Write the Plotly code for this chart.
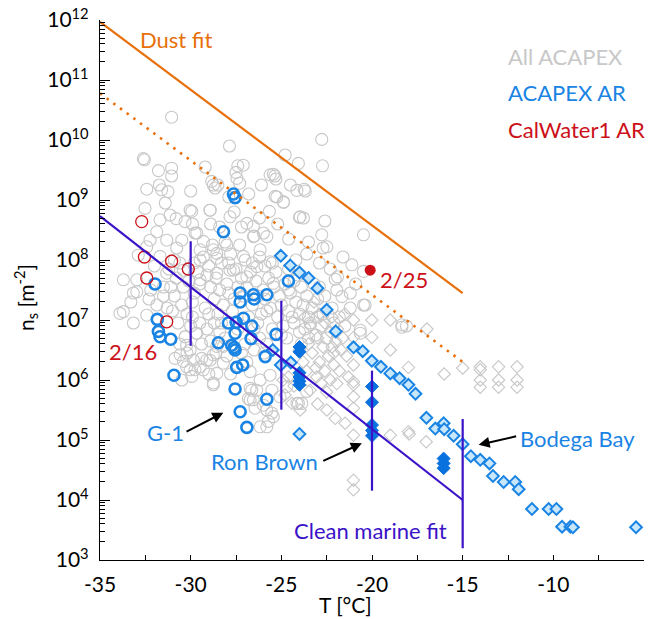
import plotly.graph_objects as go

# ---------------- data (T in degC, values as log10 of n_s in m^-2) ----------------
all_acapex_circles = [
    (-31.05,10.38),(-27.86,9.90),(-22.77,10.01),(-24.79,9.75),(-24.06,9.61),(-22.73,9.57),
    (-32.61,9.69),(-32.55,9.67),(-31.78,9.49),(-31.05,9.53),(-31.05,9.40),(-25.44,9.43),
    (-25.36,9.40),(-32.42,9.18),(-31.73,9.25),(-31.60,9.17),(-31.25,9.14),(-28.84,9.31),
    (-28.65,9.20),(-27.40,9.57),(-27.10,9.58),(-27.50,9.46),(-27.45,9.36),(-27.30,9.28),
    (-23.74,9.18),(-23.68,9.15),(-25.34,9.06),(-24.88,8.96),(-25.66,8.81),(-24.00,8.71),
    (-23.78,8.70),(-32.52,8.86),(-30.03,8.83),(-28.93,8.83),(-22.77,8.42),(-20.47,8.42),
    (-22.49,8.22),(-22.70,8.20),(-21.11,7.92),(-20.47,7.81),(-22.90,7.95),(-22.03,7.68),
    (-21.66,7.39),(-21.20,7.45),(-20.47,7.25),(-20.65,6.83),(-18.35,6.88),(-18.10,6.90),
    (-21.90,7.72),(-22.30,7.85),(-21.94,7.50),(-20.38,7.25),(-20.65,6.78),
    (-33.90,7.11),(-33.71,7.14),(-33.16,6.95),(-32.97,7.47),(-32.42,7.08),(-31.87,7.25),
    (-33.16,7.45),(-33.71,7.67),(-32.97,7.67),(-32.89,8.08),(-32.24,8.33),(-32.42,8.22),
    (-31.87,8.47),(-31.32,8.33),(-31.69,8.67),(-31.14,8.75),(-30.80,8.69),(-30.49,8.33),
    (-30.77,8.20),(-31.69,8.06),(-31.32,7.78),(-30.40,7.83),(-33.30,7.30),(-32.20,7.50),
    (-31.50,7.40),(-32.00,7.90),
    (-31.20,7.85),(-30.80,7.70),(-30.40,7.55),(-30.90,7.40),(-30.50,7.25),(-30.10,7.65),
    (-29.80,7.45),(-29.60,7.80),(-31.50,7.55),(-31.00,7.15),(-30.20,7.10),(-29.90,7.30),
    (-31.30,7.20),(-32.30,7.35),(-32.00,7.60),
    (-29.30,8.05),(-29.00,7.90),(-28.60,7.70),(-28.90,7.55),(-28.30,7.95),(-28.00,7.60),
    (-27.80,8.10),(-27.50,7.85),(-27.20,7.70),(-27.00,8.00),(-26.70,7.80),(-26.40,7.65),
    (-26.20,8.05),(-28.70,7.35),(-28.20,7.25),(-27.90,7.45),(-26.90,7.55),(-26.00,7.50),
    (-29.20,7.20),(-28.50,7.10),(-27.70,7.15),(-26.60,7.25),(-26.10,7.10),(-29.50,7.60),
    (-28.10,8.30),(-27.30,8.25),(-26.50,8.40),(-25.90,7.90),(-27.60,7.35),(-26.80,7.05),
    (-25.70,7.70),(-25.40,7.55),(-25.10,7.40),(-24.80,7.60),(-24.50,7.45),(-24.20,7.30),
    (-23.90,7.55),(-23.60,7.40),(-23.30,7.20),(-23.00,7.35),(-22.70,7.10),(-25.60,7.20),
    (-25.20,7.05),(-24.90,6.90),(-24.60,7.15),(-24.30,6.95),(-24.00,7.10),(-23.70,6.85),
    (-23.40,6.95),(-23.10,6.75),(-22.80,6.90),(-22.50,6.70),(-25.50,6.85),(-24.70,6.70),
    (-23.90,6.60),(-25.90,7.35),(-25.30,7.80),(-24.60,7.85),(-23.20,7.60),(-22.60,7.40),
    (-22.20,7.20),(-24.10,7.75),(-26.30,6.95),(-25.80,6.60),(-22.10,6.95),(-21.80,7.05),
    (-30.00,6.90),(-29.50,6.95),(-29.10,6.85),(-28.70,6.95),(-28.40,6.80),(-28.90,6.65),
    (-29.40,6.60),(-30.30,6.72),(-30.60,6.60),(-29.70,6.78),(-28.10,6.70),(-27.00,6.60),
    (-26.50,6.50),(-26.20,6.70),(-25.95,6.45),(-30.20,6.45),(-28.60,6.45),
    (-30.58,6.42),(-30.40,6.31),(-30.86,6.36),(-29.85,6.33),(-29.48,6.22),(-29.11,6.33),
    (-28.75,6.42),(-28.56,6.56),(-28.20,6.56),(-29.30,6.17),(-28.75,5.92),(-30.03,6.17),
    (-29.66,6.78),(-30.31,6.72),(-30.22,6.58),(-26.72,5.86),(-26.82,5.69),(-26.17,6.00),
    (-25.80,5.50),(-25.80,5.22),(-26.17,5.22),(-30.03,6.50),(-29.39,6.36),(-28.93,6.33),
    (-28.56,6.11),(-28.20,6.28),(-29.76,6.17),(-30.22,6.22),(-26.72,6.14),(-26.63,5.83),
    (-26.72,5.67),(-25.99,5.58),(-26.45,5.53),(-25.07,5.72),(-25.52,5.83),(-24.70,5.89),
    (-24.06,5.61),(-23.60,5.81),(-25.62,6.08),(-30.49,6.00),(-29.94,6.06),(-28.75,5.95),
    (-26.36,5.83),(-26.54,5.67),(-25.53,5.45),(-23.87,5.61),(-25.71,5.31),(-25.44,5.39),
    (-24.14,5.61),
    (-25.62,9.42),(-25.30,9.35),(-24.14,9.16),(-25.25,9.05),(-24.88,8.97),(-23.96,8.72),
    (-28.75,9.25),(-28.50,9.25),(-29.94,8.81),(-28.93,8.83),(-30.31,8.64),(-29.76,8.45),
    (-27.83,8.72),(-27.60,8.80),(-26.90,8.61),(-26.54,8.39),(-25.80,8.39),(-26.17,8.17),
    (-25.62,7.97),(-28.75,8.17),(-28.56,8.03),(-29.48,8.17),(-29.48,7.67),(-27.83,7.83),
    (-26.90,7.72),(-25.44,7.61),(-29.66,8.45),(-29.30,8.31),(-28.56,8.11),(-28.01,8.25),
    (-26.54,8.56),(-25.99,8.45),(-27.09,8.06),(-26.35,7.89),(-29.48,8.00),(-28.56,7.78),
    (-27.64,7.83),(-18.35,6.92),
    (-29.80,7.95),(-29.10,7.75),(-28.80,8.25),(-28.40,7.50),(-27.90,7.95),(-27.40,7.55),
    (-27.10,7.40),(-26.60,7.95),(-26.30,7.40),(-25.80,7.15),(-25.50,7.95),(-25.00,7.25),
    (-24.60,7.50),(-24.30,7.65),(-23.80,7.25),(-23.50,7.05),(-23.00,7.05),(-22.90,7.55),
    (-24.40,7.05),(-25.00,6.75),(-24.00,6.80),(-23.50,6.70),(-29.90,7.05),(-30.70,6.95),
    (-31.10,7.55),(-30.60,7.95),(-29.00,7.10),(-28.30,6.95),(-27.40,6.85),(-26.50,6.85),
    (-27.20,6.45),(-28.00,6.40),(-29.00,6.10),(-27.80,6.10),(-26.90,6.30),(-28.40,8.55),
    (-27.20,8.55),(-26.20,8.70),(-27.90,9.05),(-26.80,9.10),(-28.90,8.60),(-25.20,8.60),
    (-24.60,8.35),(-23.50,8.30),(-24.20,8.00),(-23.60,8.10),(-22.60,8.65),(-21.60,8.05),
    (-21.20,7.20),(-21.50,6.90),(-20.90,7.60),(-30.90,8.00),(-29.90,8.60),(-31.40,8.95),
    (-30.00,9.15),(-29.20,9.55),(-26.10,9.25),(-24.50,9.25),
]

all_acapex_diamonds = [
    (-16.02,6.10),(-15.00,6.20),(-14.03,6.22),(-14.03,6.17),(-14.03,6.00),(-14.03,5.88),
    (-13.02,6.22),(-13.02,6.00),(-13.02,5.88),(-12.00,6.22),(-12.00,6.00),(-12.00,5.88),
    (-21.02,7.00),(-20.01,7.00),(-18.99,7.00),(-21.02,6.71),(-20.01,6.71),(-18.99,6.50),
    (-17.99,6.21),(-16.97,6.85),(-21.02,6.25),(-21.02,5.97),(-21.02,5.92),(-21.02,5.72),
    (-21.02,5.53),(-22.03,5.36),(-22.49,5.50),(-21.02,5.08),(-18.99,5.08),(-17.99,5.14),
    (-17.95,5.10),(-17.01,4.97),(-21.02,4.33),(-21.02,4.17),(-21.94,5.94),(-23.05,6.05),
    (-23.41,5.83),(-24.42,5.61),(-23.96,5.50),(-21.48,5.28),
    (-23.20,7.30),(-22.90,7.10),(-22.60,6.95),(-22.30,6.80),(-22.00,6.65),(-21.70,6.50),
    (-23.00,6.70),(-22.70,6.55),(-22.40,6.40),(-22.10,6.25),(-21.80,6.15),(-23.30,6.45),
    (-22.90,6.30),(-22.60,6.15),(-22.30,6.00),(-23.40,6.90),(-21.90,6.85),(-22.20,7.05),
    (-23.10,6.20),(-21.60,6.70),(-24.60,6.05),(-24.30,5.90),(-22.50,5.80),
    (-23.70,7.05),(-23.50,6.60),(-23.80,6.30),(-24.00,6.50),(-23.60,6.15),(-22.80,5.95),
    (-21.40,6.40),(-21.30,6.05),(-22.20,6.55),(-21.50,7.10),(-24.90,6.00),(-24.80,5.75),
    (-23.00,5.60),(-22.10,6.45),
]

acapex_ar_circles = [
    (-27.64,9.10),(-27.55,9.04),(-28.19,8.47),(-31.96,7.60),(-24.61,7.65),(-27.27,7.45),
    (-26.54,7.42),(-25.80,7.42),(-27.27,7.30),(-26.50,7.35),(-31.84,7.01),(-31.78,6.81),
    (-31.69,6.72),(-31.10,6.68),(-27.92,6.95),(-27.49,6.96),(-27.09,7.03),(-26.63,6.90),
    (-27.55,6.78),(-28.47,6.62),(-27.74,6.58),(-27.55,6.50),(-27.60,6.54),(-26.67,6.69),
    (-25.89,6.39),(-27.13,6.25),(-27.46,6.21),(-30.92,6.08),(-27.55,5.85),(-25.80,5.68),
    (-27.27,5.47),(-26.90,5.21),(-25.29,6.76),
]

acapex_ar_diamonds = [
    (-25.03,8.07),(-24.51,7.91),(-24.00,7.79),(-23.50,7.70),(-23.01,7.53),(-22.50,7.17),
    (-22.00,6.81),(-21.02,6.545),(-20.51,6.48),(-20.01,6.32),(-19.51,6.22),(-18.99,6.11),
    (-18.48,6.03),(-17.99,5.92),(-17.60,5.77),(-17.00,5.37),(-16.51,5.19),(-16.05,5.28),
    (-16.02,5.18),(-15.50,5.07),(-15.00,4.93),(-14.55,4.73),(-14.03,4.67),(-13.52,4.61),
    (-13.33,4.40),(-12.74,4.30),(-12.10,4.30),(-11.91,4.18),(-11.18,3.85),(-10.26,3.85),
    (-9.83,3.85),(-9.52,3.555),(-9.06,3.555),(-8.92,3.545),(-5.44,3.545),(-25.47,6.50),
    (-25.03,6.25),(-24.48,6.29),(-24.00,5.10),
]

ground_site_diamonds = [
    (-24.0,6.55),(-24.0,6.47),(-24.0,6.12),(-24.0,6.05),(-24.0,5.98),(-24.0,5.92),
    (-20.0,5.89),(-20.0,5.63),(-20.0,5.25),(-20.0,5.16),(-20.0,5.07),
    (-16.05,4.69),(-16.05,4.61),(-16.05,4.53),
]

calwater_circles = [(-32.70,8.64),(-32.55,8.05),(-31.05,7.98),(-30.13,7.85),(-32.42,7.70),(-31.32,6.97)]
calwater_0225 = [(-20.10,7.83)]

dust_fit_T = [-35, -15]
dust_fit_ns = [9.3e11, 2.8e7]
dust_fit_low_ns = [6.0e10, 2.0e6]
clean_fit_T = [-35, -15]
clean_fit_ns = [5.4e8, 1.0e4]
clean_bar_T = [-30, -25, -20, -15]
clean_bar_low = [3.7e6, 3.2e5, 1.43e4, 1.57e3]
clean_bar_high = [2.05e8, 2.1e7, 1.43e6, 2.24e5]

x_ticks = [-35, -30, -25, -20, -15, -10, -5]
x_tick_labels = ["-35", "-30", "-25", "-20", "-15", "-10", "-5"]
y_exponents = list(range(3, 13))

# ---------------- styling ----------------
FONT = "Lato"
GRAY = "#C8C8C8"
BLUE = "#1A84E4"
LIGHTBLUE = "#C9E7FA"
DARKBLUE = "#0A72DF"
RED = "#CC1018"
ORANGE = "#E8700A"
PURPLE = "#3A12C8"


def split(pairs):
    return [p[0] for p in pairs], [10 ** p[1] for p in pairs]


fig = go.Figure()

x, y = split(all_acapex_circles)
fig.add_trace(go.Scatter(x=x, y=y, mode="markers",
                         marker=dict(symbol="circle-open", size=12, color=GRAY, line=dict(width=1.1))))
x, y = split(all_acapex_diamonds)
fig.add_trace(go.Scatter(x=x, y=y, mode="markers",
                         marker=dict(symbol="diamond-open", size=9.5, color=GRAY, line=dict(width=1.1))))
x, y = split(acapex_ar_diamonds)
fig.add_trace(go.Scatter(x=x, y=y, mode="markers",
                         marker=dict(symbol="diamond", size=9, color=LIGHTBLUE, line=dict(width=2, color=BLUE))))
x, y = split(ground_site_diamonds)
fig.add_trace(go.Scatter(x=x, y=y, mode="markers",
                         marker=dict(symbol="diamond", size=10, color=DARKBLUE, line=dict(width=1, color=DARKBLUE))))
x, y = split(acapex_ar_circles)
fig.add_trace(go.Scatter(x=x, y=y, mode="markers",
                         marker=dict(symbol="circle-open", size=11, color=BLUE, line=dict(width=2.6))))
x, y = split(calwater_circles)
fig.add_trace(go.Scatter(x=x, y=y, mode="markers",
                         marker=dict(symbol="circle-open", size=12, color=RED, line=dict(width=1.3))))
x, y = split(calwater_0225)
fig.add_trace(go.Scatter(x=x, y=y, mode="markers",
                         marker=dict(symbol="circle", size=11, color=RED)))

# fits
fig.add_trace(go.Scatter(x=dust_fit_T, y=dust_fit_ns, mode="lines",
                         line=dict(color=ORANGE, width=2.2)))
fig.add_trace(go.Scatter(x=dust_fit_T, y=dust_fit_low_ns, mode="lines",
                         line=dict(color=ORANGE, width=2.6, dash="2.5px,5.8px")))
fig.add_trace(go.Scatter(x=clean_fit_T, y=clean_fit_ns, mode="lines",
                         line=dict(color=PURPLE, width=2.2)))
bx, by = [], []
for t, lo, hi in zip(clean_bar_T, clean_bar_low, clean_bar_high):
    bx += [t, t, None]
    by += [lo, hi, None]
fig.add_trace(go.Scatter(x=bx, y=by, mode="lines", line=dict(color=PURPLE, width=2.2)))

# ---------------- annotations ----------------
ann = []


def text(x, ly, s, color, size=22, xanchor="center"):
    ann.append(dict(x=x, y=ly, xref="x", yref="y", text=s, showarrow=False,
                    font=dict(family=FONT, size=size, color=color), xanchor=xanchor, yanchor="middle"))


def arrow(x0, y0, x1, y1):
    ann.append(dict(x=x1, y=y1, ax=x0, ay=y0, xref="x", yref="y", axref="x", ayref="y",
                    text="", showarrow=True, arrowhead=2, arrowsize=1.1, arrowwidth=2, arrowcolor="black"))


text(-30.81, 11.67, "Dust fit", ORANGE)
text(-12.6, 11.39, "All ACAPEX", GRAY, xanchor="left")
text(-12.6, 10.79, "ACAPEX AR", BLUE, xanchor="left")
text(-12.6, 10.18, "CalWater1 AR", RED, xanchor="left")
text(-19.66, 7.68, "2/25", RED, xanchor="left")
text(-34.61, 6.47, "2/16", RED, xanchor="left")
text(-31.41, 5.13, "G-1", BLUE)
text(-25.95, 4.65, "Ron Brown", BLUE)
text(-8.65, 5.03, "Bodega Bay", BLUE)
text(-20.1, 3.50, "Clean marine fit", PURPLE)
arrow(-30.31, 5.128, -28.20, 5.455)
arrow(-22.77, 4.64, -20.56, 4.945)
arrow(-11.97, 5.067, -14.12, 4.92)

W, H, L, R, T, B = 652, 619, 100, 8, 20, 59
pw, ph = W - L - R, H - T - B
# axis titles (pixel positions turned into paper fractions)
ann.append(dict(x=(25 - L) / pw, y=(H - B - 298) / ph, xref="paper", yref="paper",
                xanchor="center", yanchor="middle",
                text="n<sub>s</sub> [m<sup>-2</sup>]", showarrow=False, textangle=-90,
                font=dict(family=FONT, size=21, color="black")))
ann.append(dict(x=(345 - L) / pw, y=(H - B - 604) / ph, xref="paper", yref="paper",
                xanchor="center", yanchor="middle",
                text="T [°C]", showarrow=False, font=dict(family=FONT, size=21, color="black")))

yt = [10 ** k for k in y_exponents]
ytt = ["10<sup>%d</sup>" % k for k in y_exponents]
yminor = [m * 10 ** k for k in y_exponents[:-1] for m in range(2, 10)]

fig.update_layout(
    width=W, height=H, margin=dict(l=L, r=R, t=T, b=B),
    paper_bgcolor="white", plot_bgcolor="white", showlegend=False,
    font=dict(family=FONT, size=21, color="black"),
    annotations=ann,
    xaxis=dict(range=[-35, -5], tickvals=x_ticks, ticktext=x_tick_labels, automargin=False,
               ticks="inside", ticklen=5, tickwidth=1.2, tickcolor="black",
               minor=dict(tickvals=[-32.5, -27.5, -22.5, -17.5, -12.5, -7.5], ticks="inside",
                          ticklen=5, tickwidth=1.2, tickcolor="black"),
               showline=True, linecolor="black", linewidth=1.3, showgrid=False, zeroline=False,
               tickfont=dict(family=FONT, size=21), ticklabelstandoff=6),
    yaxis=dict(type="log", range=[3, 12], tickvals=yt, ticktext=ytt, automargin=False,
               ticks="inside", ticklen=10, tickwidth=1.2, tickcolor="black",
               minor=dict(tickvals=yminor, ticks="inside", ticklen=5, tickwidth=1, tickcolor="black"),
               showline=True, linecolor="black", linewidth=1.3, showgrid=False, zeroline=False,
               tickfont=dict(family=FONT, size=21), ticklabelstandoff=6),
)

fig.write_html("out.html", config={"displayModeBar": False},
               post_script="document.body.style.margin='0px';")
